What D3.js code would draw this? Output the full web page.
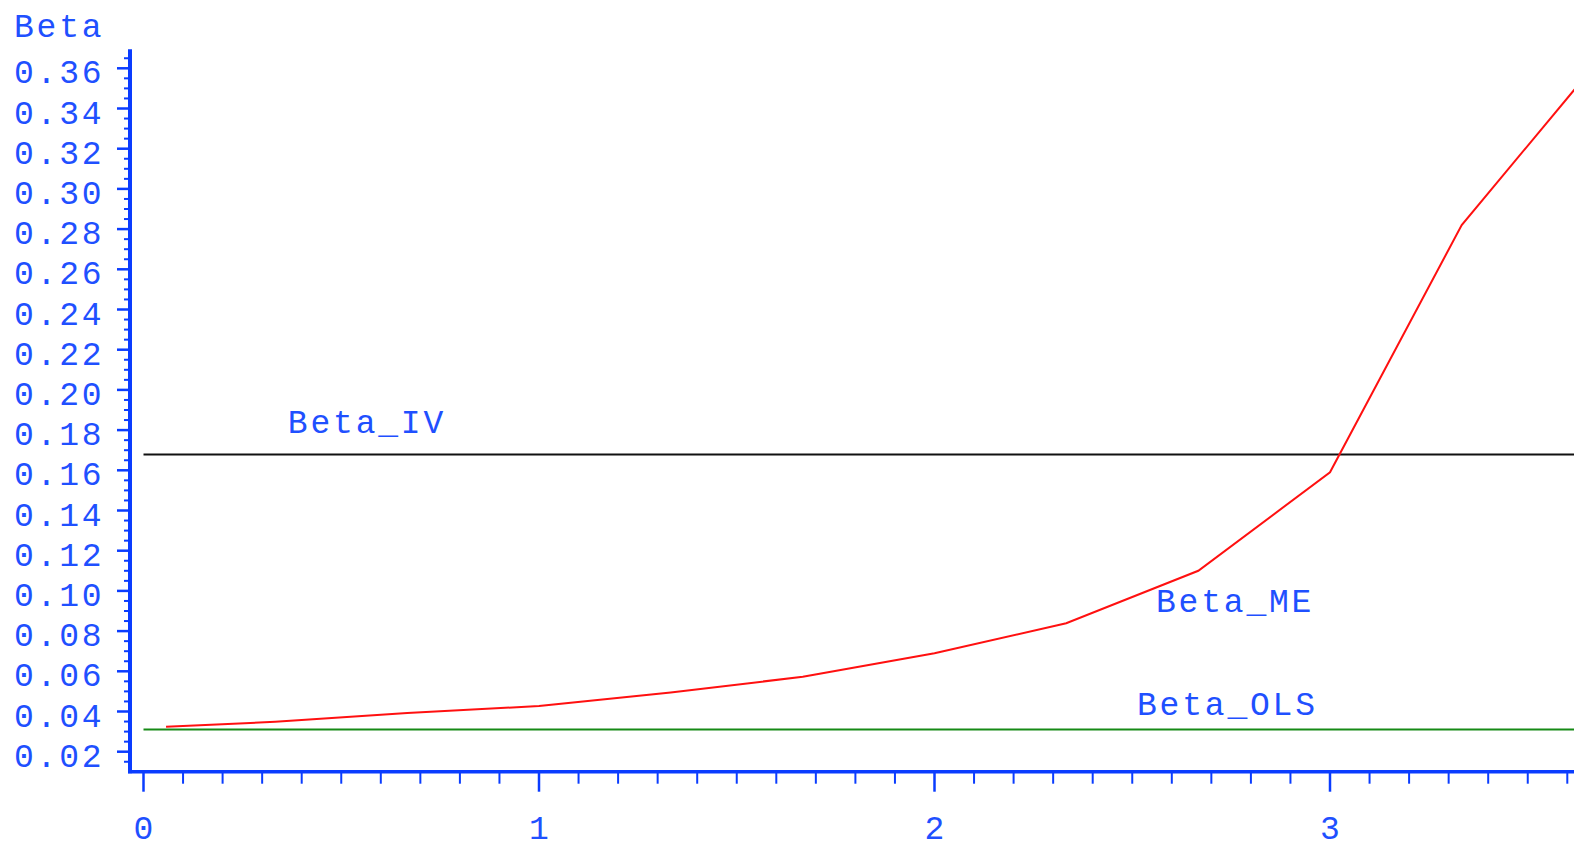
<!DOCTYPE html>
<html>
<head>
<meta charset="utf-8">
<script src="https://cdn.jsdelivr.net/npm/d3@7"></script>
<style>
  html, body { margin: 0; padding: 0; background: #fff; overflow: hidden; }
  svg { display: block; }
  text { font-family: "Liberation Mono", "DejaVu Sans Mono", monospace; font-size: 33px; fill: #1f50ff; letter-spacing: 2.8px; }
</style>
</head>
<body>
<svg id="chart" width="1574" height="848"></svg>
<script>
// Measurement-error sensitivity: x values and the corrected slope estimates
const xValues = [0.057, 0.333, 0.667, 1.0, 1.333, 1.667, 2.0, 2.333, 2.667, 3.0, 3.333, 3.667];
const betaME  = [0.0324, 0.0349, 0.0393, 0.0427, 0.0494, 0.0573, 0.069, 0.0839, 0.110, 0.159, 0.282, 0.361];
// Reference estimates drawn as flat lines across the x range
const refX    = [0, 4];
const betaIV  = [0.1678, 0.1678];
const betaOLS = [0.0311, 0.0311];

const yTickValues = [0.02, 0.04, 0.06, 0.08, 0.10, 0.12, 0.14, 0.16, 0.18, 0.20, 0.22, 0.24, 0.26, 0.28, 0.30, 0.32, 0.34, 0.36];
const xTickValues = [0, 1, 2, 3];
const seriesLabels = [
  { text: "Beta_IV",  x: 0.365, y: 0.1787 },
  { text: "Beta_ME",  x: 2.56,  y: 0.0893 },
  { text: "Beta_OLS", x: 2.512, y: 0.0385 }
];

const svg = d3.select("#chart");
const axisBlue = "#0a3cff";

const x = d3.scaleLinear().domain([0, 4]).range([143.5, 143.5 + 4 * 395.5]);
const y = d3.scaleLinear().domain([0.02, 0.36]).range([751.7, 68.3]);
const axisX = 130, axisY = 771.7;

// Series lines
const line = d3.line().x(d => x(d[0])).y(d => y(d[1]));
svg.append("path")
  .datum(refX.map((v, i) => [v, betaIV[i]]))
  .attr("d", line).attr("fill", "none").attr("stroke", "#111").attr("stroke-width", 2);
svg.append("path")
  .datum(refX.map((v, i) => [v, betaOLS[i]]))
  .attr("d", line).attr("fill", "none").attr("stroke", "#168a16").attr("stroke-width", 2);
svg.append("path")
  .datum(xValues.map((v, i) => [v, betaME[i]]))
  .attr("d", line).attr("fill", "none").attr("stroke", "#ff1010").attr("stroke-width", 2);

// Y axis: line, major ticks every 0.02, minor every 0.005
svg.append("line")
  .attr("x1", axisX).attr("x2", axisX)
  .attr("y1", y(0.3695)).attr("y2", axisY + 1.5)
  .attr("stroke", axisBlue).attr("stroke-width", 4);
const yMinor = d3.range(3, 74).map(i => i * 0.005).filter(v => Math.abs(v / 0.02 - Math.round(v / 0.02)) > 1e-6);
svg.append("g").selectAll("line").data(yMinor).join("line")
  .attr("x1", axisX - 6).attr("x2", axisX)
  .attr("y1", d => y(d)).attr("y2", d => y(d))
  .attr("stroke", axisBlue).attr("stroke-width", 2);
svg.append("g").selectAll("line").data(yTickValues).join("line")
  .attr("x1", axisX - 13).attr("x2", axisX)
  .attr("y1", d => y(d)).attr("y2", d => y(d))
  .attr("stroke", axisBlue).attr("stroke-width", 2.5);
svg.append("g").selectAll("text").data(yTickValues).join("text")
  .attr("x", 14).attr("y", d => y(d) + 15)
  .text(d => d3.format(".2f")(d));
svg.append("text").attr("x", 14).attr("y", 37).text("Beta");

// X axis: line, major ticks at integers, minor every 0.1
svg.append("line")
  .attr("x1", axisX - 2).attr("x2", 1574)
  .attr("y1", axisY).attr("y2", axisY)
  .attr("stroke", axisBlue).attr("stroke-width", 3.5);
const xMinor = d3.range(1, 40).map(i => i / 10).filter(v => Math.abs(v - Math.round(v)) > 1e-6);
svg.append("g").selectAll("line").data(xMinor).join("line")
  .attr("x1", d => x(d)).attr("x2", d => x(d))
  .attr("y1", axisY).attr("y2", axisY + 12)
  .attr("stroke", axisBlue).attr("stroke-width", 2);
svg.append("g").selectAll("line").data(xTickValues).join("line")
  .attr("x1", d => x(d)).attr("x2", d => x(d))
  .attr("y1", axisY).attr("y2", axisY + 20)
  .attr("stroke", axisBlue).attr("stroke-width", 2.5);
svg.append("g").selectAll("text").data(xTickValues).join("text")
  .attr("x", d => x(d)).attr("y", 839)
  .attr("text-anchor", "middle").style("letter-spacing", "0px")
  .text(d => d);

// Series labels
svg.append("g").selectAll("text").data(seriesLabels).join("text")
  .attr("x", d => x(d.x)).attr("y", d => y(d.y))
  .text(d => d.text);
</script>
</body>
</html>
